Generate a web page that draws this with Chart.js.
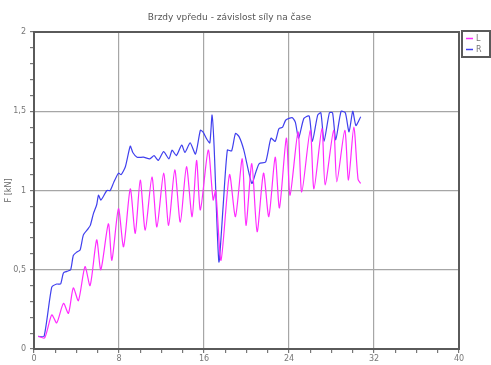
<!DOCTYPE html>
<html>
<head>
<meta charset="utf-8">
<script src="https://cdn.jsdelivr.net/npm/chart.js@4/dist/chart.umd.min.js"></script>
<style>
  html, body { margin: 0; padding: 0; background: #fff; }
  #wrap { width: 491px; height: 365px; }
</style>
</head>
<body>
<div id="wrap"><canvas id="c" width="491" height="365"></canvas></div>
<script>
// Brake force over time, front brakes (left and right side)
const chartTitle = 'Brzdy vpředu - závislost síly na čase';
const seriesNames = ['L', 'R'];
const axisTitleY = 'F [kN]';

// time [s] and force [kN], left brake
const timeL = [0.4, 1.0, 1.67, 2.14, 2.77, 3.24, 3.7, 4.18, 4.8, 5.28, 5.9, 6.29, 7.0, 7.33, 7.95, 8.43,
  9.06, 9.53, 10.0, 10.47, 11.1, 11.57, 12.2, 12.67, 13.25, 13.77, 14.35, 14.88, 15.3, 15.66, 16.4, 16.86,
  17.1, 17.6, 18.4, 18.96, 19.6, 19.95, 20.5, 21.0, 21.6, 22.1, 22.7, 23.1, 23.75, 24.1, 24.85, 25.2,
  26.0, 26.35, 27.1, 27.4, 28.2, 28.5, 29.25, 29.6, 30.1, 30.5, 30.75];
const forceL = [0.08, 0.07, 0.215, 0.165, 0.288, 0.225, 0.385, 0.305, 0.52, 0.40, 0.688, 0.50, 0.79, 0.56, 0.885, 0.645,
  1.01, 0.73, 1.066, 0.75, 1.085, 0.77, 1.11, 0.78, 1.13, 0.80, 1.15, 0.835, 1.19, 0.877, 1.255, 0.94,
  1.0, 0.56, 1.10, 0.835, 1.20, 0.78, 1.17, 0.74, 1.11, 0.835, 1.21, 0.89, 1.33, 0.97, 1.37, 0.99,
  1.38, 1.01, 1.39, 1.035, 1.38, 1.055, 1.38, 1.066, 1.40, 1.07, 1.045];

// time [s] and force [kN], right brake
const timeR = [0.4, 0.95, 1.67, 2.14, 2.5, 2.77, 3.1, 3.45, 3.7, 4.0, 4.34, 4.65, 5.1, 5.3, 5.6, 5.9,
  6.07, 6.3, 6.86, 7.17, 7.5, 7.95, 8.2, 8.6, 9.06, 9.3, 9.7, 10.3, 10.9, 11.3, 11.7, 12.2, 12.7, 13.0,
  13.4, 13.9, 14.2, 14.7, 15.2, 15.66, 15.9, 16.3, 16.55, 16.76, 16.95, 17.4, 17.8, 18.2, 18.6, 18.96,
  19.3, 19.75, 20.5, 20.9, 21.2, 21.8, 22.3, 22.7, 23.05, 23.4, 23.7, 24.3, 24.6, 24.9, 25.4, 25.9,
  26.2, 26.7, 27.0, 27.3, 27.8, 28.1, 28.4, 28.9, 29.3, 29.65, 30.0, 30.3, 30.75];
const forceR = [0.08, 0.08, 0.39, 0.41, 0.41, 0.48, 0.49, 0.50, 0.59, 0.61, 0.625, 0.72, 0.76, 0.78, 0.856, 0.91,
  0.97, 0.94, 1.0, 1.0, 1.05, 1.11, 1.10, 1.15, 1.28, 1.24, 1.21, 1.21, 1.20, 1.22, 1.19, 1.245, 1.20, 1.255,
  1.22, 1.287, 1.24, 1.30, 1.23, 1.38, 1.37, 1.32, 1.30, 1.476, 1.28, 0.55, 0.9, 1.255, 1.25, 1.36,
  1.34, 1.255, 1.045, 1.12, 1.17, 1.18, 1.33, 1.31, 1.39, 1.40, 1.445, 1.46, 1.43, 1.33, 1.455, 1.47,
  1.31, 1.476, 1.49, 1.31, 1.49, 1.49, 1.32, 1.50, 1.49, 1.37, 1.50, 1.41, 1.465];

const colorL = '#ff2cff';
const colorR = '#4040ee';
const fontFamily = '"DejaVu Sans", Verdana, sans-serif';

const toPoints = (t, f) => t.map((x, i) => ({ x: x, y: f[i] }));

const isMultiple = (v, step) => Math.abs(v / step - Math.round(v / step)) < 1e-6;
const fmt = v => String(Math.round(v * 10) / 10).replace('.', ',');

// frame around the plot area + boxed legend at the top right
const framePlugin = {
  id: 'frameAndLegend',
  afterDraw(chart) {
    const { ctx, chartArea: a } = chart;
    ctx.save();
    ctx.strokeStyle = '#5a5a5a';
    ctx.lineWidth = 2;
    ctx.strokeRect(a.left, a.top, a.right - a.left, a.bottom - a.top);

    const bx = a.right + 3, by = a.top - 1, bw = 28, bh = 26;
    ctx.strokeRect(bx, by, bw, bh);
    ctx.font = '8px ' + fontFamily;
    ctx.textBaseline = 'middle';
    ctx.textAlign = 'left';
    chart.data.datasets.forEach((ds, i) => {
      const y = by + 7.5 + i * 11;
      ctx.strokeStyle = ds.borderColor;
      ctx.lineWidth = 1.5;
      ctx.beginPath();
      ctx.moveTo(bx + 4, y);
      ctx.lineTo(bx + 11, y);
      ctx.stroke();
      ctx.fillStyle = '#777';
      ctx.fillText(ds.label, bx + 14, y);
    });
    ctx.restore();
  }
};

new Chart(document.getElementById('c'), {
  type: 'line',
  data: {
    datasets: [
      { label: seriesNames[0], data: toPoints(timeL, forceL), borderColor: colorL, borderWidth: 1.2,
        pointRadius: 0, tension: 0.25, fill: false },
      { label: seriesNames[1], data: toPoints(timeR, forceR), borderColor: colorR, borderWidth: 1.2,
        pointRadius: 0, tension: 0.2, fill: false }
    ]
  },
  options: {
    responsive: false,
    animation: false,
    layout: { padding: { left: 0, right: 32, top: 0, bottom: 0 } },
    plugins: {
      legend: { display: false },
      tooltip: { enabled: false },
      title: {
        display: true,
        text: chartTitle,
        color: '#555',
        font: { family: fontFamily, size: 9, weight: 'normal' },
        padding: { top: 12.5, bottom: 8.7 }
      }
    },
    scales: {
      x: {
        type: 'linear',
        min: 0, max: 40,
        afterFit(s) { s.height = 16; },
        border: { display: false },
        grid: {
          color: c => isMultiple(c.tick.value, 8) ? '#a6a6a6' : 'rgba(0,0,0,0)',
          tickColor: '#777',
          tickLength: 4,
          lineWidth: 1.2
        },
        ticks: {
          stepSize: 2,
          autoSkip: false,
          maxRotation: 0,
          padding: 1,
          color: '#777',
          font: { family: fontFamily, size: 8 },
          callback: v => isMultiple(v, 8) ? String(Math.round(v)) : ''
        }
      },
      y: {
        min: 0, max: 2,
        afterFit(s) { s.width = 34; },
        border: { display: false },
        title: {
          display: true,
          text: axisTitleY,
          color: '#666',
          font: { family: fontFamily, size: 8 },
          padding: { top: 4, bottom: 0 }
        },
        grid: {
          color: c => isMultiple(c.tick.value, 0.5) ? '#a6a6a6' : 'rgba(0,0,0,0)',
          tickColor: '#777',
          tickLength: 4,
          lineWidth: 1.2
        },
        ticks: {
          stepSize: 0.1,
          autoSkip: false,
          padding: 4,
          color: '#777',
          font: { family: fontFamily, size: 8 },
          callback: v => isMultiple(v, 0.5) ? fmt(v) : ''
        }
      }
    }
  },
  plugins: [framePlugin]
});
</script>
</body>
</html>
